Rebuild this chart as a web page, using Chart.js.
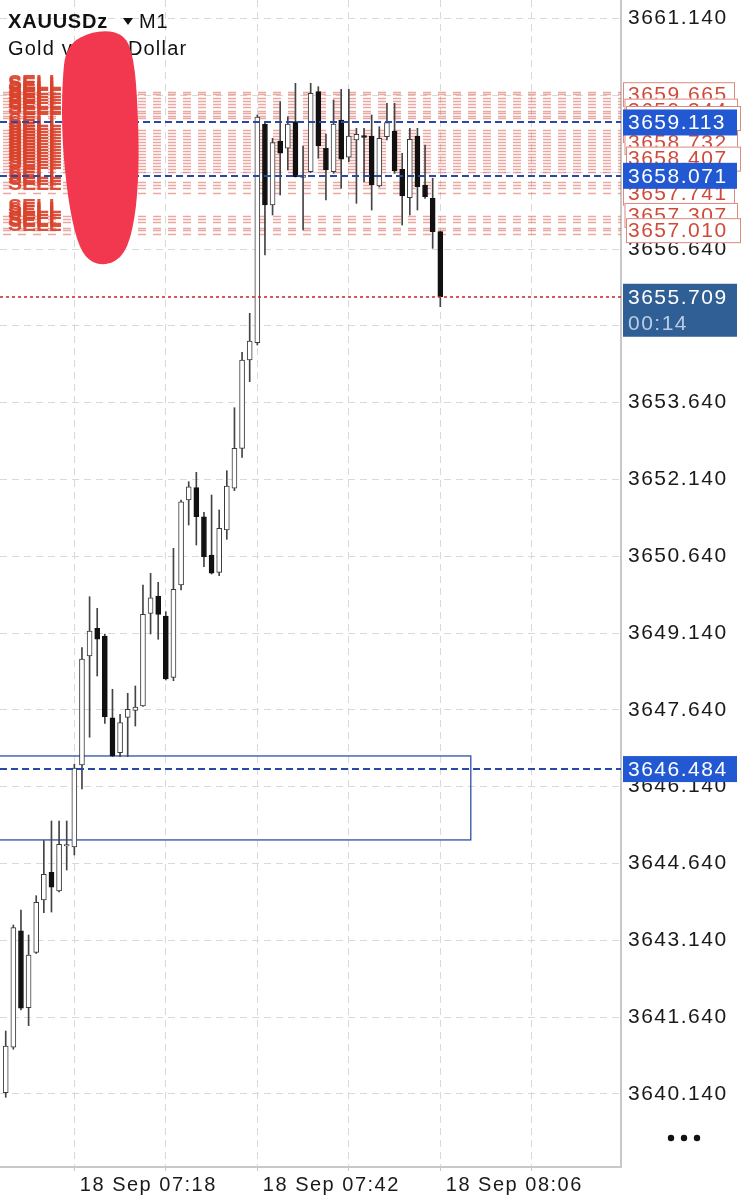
<!DOCTYPE html>
<html>
<head>
<meta charset="utf-8">
<script src="https://cdn.jsdelivr.net/npm/chart.js@4.4.1/dist/chart.umd.min.js"></script>
<style>
  html, body { margin: 0; padding: 0; background: #fff; }
  #wrap { width: 746px; height: 1200px; position: relative; }
</style>
</head>
<body>
<div id="wrap"><canvas id="xau"></canvas></div>
<script>
// XAUUSDz M1 candles, 18 Sep 07:09 - 08:06
const times = ['07:09','07:10','07:11','07:12','07:13','07:14','07:15','07:16','07:17','07:18',
  '07:19','07:20','07:21','07:22','07:23','07:24','07:25','07:26','07:27','07:28',
  '07:29','07:30','07:31','07:32','07:33','07:34','07:35','07:36','07:37','07:38',
  '07:39','07:40','07:41','07:42','07:43','07:44','07:45','07:46','07:47','07:48',
  '07:49','07:50','07:51','07:52','07:53','07:54','07:55','07:56','07:57','07:58',
  '07:59','08:00','08:01','08:02','08:03','08:04','08:05','08:06'];
const open = [3640.163,3641.050,3643.327,3641.823,3642.905,3643.927,3644.468,3644.103,3644.982,3644.962,
  3646.564,3648.692,3649.234,3649.083,3647.487,3646.804,3647.495,3647.632,3647.716,3649.526,
  3649.864,3649.474,3648.276,3650.079,3651.739,3651.980,3651.413,3650.665,3650.327,3651.153,
  3651.968,3652.749,3654.474,3654.812,3659.077,3657.501,3658.751,3658.609,3659.128,3658.042,
  3658.151,3659.714,3658.609,3658.151,3659.161,3658.433,3658.771,3658.855,3658.849,3657.872,
  3658.835,3658.946,3658.198,3657.644,3658.849,3657.892,3657.632,3656.980];
const high = [3641.368,3643.439,3643.732,3643.243,3644.011,3645.085,3645.470,3645.470,3645.470,3646.580,
  3648.855,3649.851,3649.624,3649.122,3648.042,3647.554,3647.964,3648.107,3650.079,3650.308,
  3650.132,3649.558,3650.796,3651.739,3652.097,3652.280,3651.499,3651.837,3651.544,3652.312,
  3653.542,3654.624,3655.386,3659.259,3659.122,3658.804,3659.519,3659.226,3659.878,3658.653,
  3659.878,3659.812,3658.888,3659.552,3659.761,3659.761,3658.999,3658.999,3659.259,3659.030,
  3659.487,3659.487,3658.511,3658.999,3658.999,3658.673,3658.023,3656.985];
const low = [3640.073,3641.011,3641.778,3641.472,3642.882,3643.679,3643.692,3644.083,3644.513,3644.806,
  3646.095,3647.105,3648.302,3647.378,3646.726,3646.726,3646.726,3647.325,3647.706,3649.122,
  3649.019,3648.224,3648.210,3649.982,3651.251,3650.860,3650.437,3650.294,3650.261,3650.972,
  3651.921,3652.573,3654.050,3654.767,3656.525,3657.306,3657.696,3658.185,3658.048,3657.013,
  3658.136,3658.413,3657.599,3658.120,3657.827,3658.347,3657.534,3657.956,3657.403,3657.853,
  3658.771,3658.120,3657.110,3657.306,3657.403,3657.632,3656.655,3655.515];
const close = [3641.075,3643.386,3641.812,3642.853,3643.882,3644.429,3644.175,3645.015,3645.011,3646.505,
  3648.634,3649.181,3649.019,3647.507,3646.739,3647.390,3647.651,3647.696,3649.507,3649.831,
  3649.507,3648.243,3649.995,3651.706,3651.999,3651.413,3650.632,3650.308,3651.187,3652.013,
  3652.749,3654.474,3654.845,3659.220,3657.501,3658.718,3658.511,3659.083,3658.054,3658.087,
  3659.683,3658.653,3658.185,3659.083,3658.394,3658.849,3658.882,3658.823,3657.892,3658.804,
  3659.109,3658.165,3657.677,3658.784,3657.859,3657.663,3656.980,3655.709];

// open SELL orders (red lines) and the labels visible on the price scale
const sellLevels = [3659.708,3659.665,3659.591,3659.532,3659.474,3659.415,3659.344,3659.298,3659.239,3659.200,
  3658.966,3658.907,3658.849,3658.790,3658.732,3658.673,3658.614,3658.556,3658.497,3658.439,
  3658.380,3658.321,3658.263,3658.204,3658.146,
  3657.950,3657.892,3657.833,3657.741,
  3657.286,3657.228,3657.169,3657.052,3657.010,3656.935];
const sellLabels = [3659.665,3659.344,3659.200,3658.966,3658.732,3658.407,3657.741,3657.307,3657.010];
const blueLevels = [3659.113, 3658.071, 3646.484];
const lastPrice = 3655.709;
const countdown = '00:14';
// support zone box
const zoneTop = 3646.74;
const zoneBottom = 3645.10;
const zoneEnd = '08:10';

const yTicks = [3640.140,3641.640,3643.140,3644.640,3646.140,3647.640,3649.140,3650.640,
  3652.140,3653.640,3655.140,3656.640,3658.140,3659.640,3661.140];
const xTicks = ['07:18','07:30','07:42','07:54','08:06','08:18'];
const xLabelled = ['07:18','07:42','08:06'];
const dateText = '18 Sep';

function minuteIndex(t) {
  const [h, m] = t.split(':').map(Number);
  const [h0, m0] = times[0].split(':').map(Number);
  return (h * 60 + m) - (h0 * 60 + m0);
}

const FONT = '"Liberation Sans", Arial, sans-serif';
Chart.defaults.font.family = FONT;

const bodies = times.map((t, i) => ({ x: i, y: [open[i], close[i]] }));
const wicks = times.map((t, i) => ({ x: i, y: [low[i], high[i]] }));
const bull = times.map((t, i) => close[i] >= open[i]);

function labelBox(ctx, x, y, w, h, fill, stroke) {
  ctx.fillStyle = fill;
  ctx.fillRect(x, y, w, h);
  if (stroke) {
    ctx.strokeStyle = stroke;
    ctx.lineWidth = 1;
    ctx.strokeRect(x + 0.5, y + 0.5, w - 1, h - 1);
  }
}

// rough outline of the scribble that hides the account name
const blob = [[95,30],[124,33],[134,58],[138,110],[139,170],[135,220],[125,255],[106,266],
  [88,261],[77,242],[68,200],[62,140],[62,85],[66,45]];

const overlay = {
  id: 'overlay',
  beforeDraw(chart) {
    const c = chart.ctx;
    c.save();
    c.fillStyle = '#fff';
    c.fillRect(0, 0, chart.width, chart.height);
    c.restore();
    c.letterSpacing = '1.5px';
  },
  beforeDatasetsDraw(chart) {
    const { ctx, chartArea: a, scales: { x, y } } = chart;
    ctx.save();
    ctx.beginPath();
    ctx.rect(a.left, a.top, a.right - a.left, a.bottom - a.top);
    ctx.clip();
    // sell order lines
    ctx.setLineDash([8, 7]);
    ctx.lineWidth = 1.5;
    ctx.strokeStyle = 'rgba(214,82,70,0.5)';
    sellLevels.forEach(p => {
      const py = Math.round(y.getPixelForValue(p)) + 0.5;
      ctx.beginPath();
      ctx.moveTo(a.left + 3, py);
      ctx.lineTo(a.right, py);
      ctx.stroke();
    });
    // zone rectangle
    ctx.setLineDash([]);
    ctx.strokeStyle = '#2d4fa6';
    ctx.lineWidth = 1.3;
    const zx2 = x.getPixelForValue(minuteIndex(zoneEnd));
    const zy1 = y.getPixelForValue(zoneTop), zy2 = y.getPixelForValue(zoneBottom);
    ctx.strokeRect(a.left - 2, zy1, zx2 - a.left + 2, zy2 - zy1);
    ctx.restore();
  },
  afterDatasetsDraw(chart) {
    const { ctx, chartArea: a, scales: { y } } = chart;
    ctx.save();
    // SELL tags on the left
    ctx.letterSpacing = '0px';
    ctx.font = 'bold 21px ' + FONT;
    ctx.fillStyle = 'rgba(217,67,44,0.92)';
    ctx.textBaseline = 'alphabetic';
    sellLevels.forEach(p => {
      ctx.fillText('SELL', 8, y.getPixelForValue(p) - 3);
    });
    // blue dashed levels
    ctx.setLineDash([7, 4]);
    ctx.lineWidth = 2;
    ctx.strokeStyle = '#2a48a8';
    blueLevels.forEach(p => {
      const py = Math.round(y.getPixelForValue(p));
      ctx.beginPath();
      ctx.moveTo(a.left, py);
      ctx.lineTo(a.right, py);
      ctx.stroke();
    });
    // last price line
    ctx.setLineDash([3, 3]);
    ctx.lineWidth = 1.5;
    ctx.strokeStyle = '#d42020';
    const lp = Math.round(y.getPixelForValue(lastPrice));
    ctx.beginPath();
    ctx.moveTo(a.left, lp);
    ctx.lineTo(a.right, lp);
    ctx.stroke();
    ctx.restore();
  },
  afterDraw(chart) {
    const { ctx, chartArea: a, scales: { y } } = chart;
    ctx.save();
    ctx.letterSpacing = '1.5px';
    ctx.textBaseline = 'middle';
    ctx.font = '21px ' + FONT;
    const bx = a.right + 2;
    // red order labels, stacked
    sellLabels.forEach((p, i) => {
      const py = y.getPixelForValue(p);
      const off = (i % 3) * 1.5;
      labelBox(ctx, bx + off, py - 12, 112 + off, 25, '#fff', '#dd8a80');
      ctx.fillStyle = '#cf4a3a';
      ctx.fillText(p.toFixed(3), bx + 5, py + 1);
    });
    // blue labels
    blueLevels.forEach(p => {
      const py = y.getPixelForValue(p);
      labelBox(ctx, bx, py - 13, 114, 26, '#2258d2');
      ctx.fillStyle = '#fff';
      ctx.fillText(p.toFixed(3), bx + 5, py + 1);
    });
    // last price box with countdown
    const lp = y.getPixelForValue(lastPrice);
    labelBox(ctx, bx, lp - 13, 114, 53, '#2f5f95');
    ctx.fillStyle = '#fff';
    ctx.fillText(lastPrice.toFixed(3), bx + 5, lp + 1);
    ctx.fillStyle = '#b9cde3';
    ctx.fillText(countdown, bx + 5, lp + 27);

    // header
    ctx.textBaseline = 'alphabetic';
    ctx.letterSpacing = '0.8px';
    ctx.fillStyle = '#111';
    ctx.font = 'bold 20px ' + FONT;
    ctx.fillText('XAUUSDz', 8, 28);
    ctx.beginPath();
    ctx.moveTo(123, 18); ctx.lineTo(133, 18); ctx.lineTo(128, 25);
    ctx.closePath();
    ctx.fill();
    ctx.font = '20px ' + FONT;
    ctx.fillText('M1', 139, 28);
    ctx.letterSpacing = '1.2px';
    ctx.fillText('Gold vs US Dollar', 8, 55);

    // scribble over the account info
    ctx.fillStyle = '#f2384e';
    ctx.beginPath();
    const n = blob.length;
    const mid = k => [(blob[k % n][0] + blob[(k + 1) % n][0]) / 2, (blob[k % n][1] + blob[(k + 1) % n][1]) / 2];
    const m0 = mid(0);
    ctx.moveTo(m0[0], m0[1]);
    for (let k = 1; k <= n; k++) {
      const pt = blob[k % n], m = mid(k);
      ctx.quadraticCurveTo(pt[0], pt[1], m[0], m[1]);
    }
    ctx.closePath();
    ctx.fill();

    // menu dots
    ctx.fillStyle = '#111';
    [671, 684, 697].forEach(cx => {
      ctx.beginPath();
      ctx.arc(cx, 1138, 3.2, 0, Math.PI * 2);
      ctx.fill();
    });
    ctx.restore();
  }
};

new Chart(document.getElementById('xau'), {
  type: 'bar',
  data: {
    datasets: [
      {
        label: 'body',
        data: bodies,
        grouped: false,
        barThickness: 5,
        backgroundColor: bull.map(b => b ? '#ffffff' : '#111111'),
        borderColor: bull.map(b => b ? '#3a3a3a' : '#111111'),
        borderWidth: 1,
        borderSkipped: false
      },
      {
        label: 'wick',
        data: wicks,
        grouped: false,
        barThickness: 1,
        backgroundColor: '#444444',
        borderWidth: 0
      }
    ]
  },
  options: {
    responsive: true,
    maintainAspectRatio: false,
    animation: false,
    layout: { padding: 0 },
    plugins: { legend: { display: false }, tooltip: { enabled: false } },
    scales: {
      x: {
        type: 'linear',
        min: -0.75,
        max: 80.7,
        offset: false,
        grid: { offset: false, color: '#d9d9d9', lineWidth: 1, drawTicks: true, tickLength: 4, tickColor: '#c8c8c8' },
        border: { display: true, color: '#c8c8c8', width: 2, dash: [7, 5] },
        afterBuildTicks: s => { s.ticks = xTicks.map(t => ({ value: minuteIndex(t) })); },
        afterFit: s => { s.height = 33; s.paddingLeft = 0; s.paddingRight = 0; },
        ticks: {
          autoSkip: false,
          maxRotation: 0,
          align: 'start',
          padding: 2,
          color: '#1a1a1a',
          font: { size: 20 },
          callback: (v, i) => xLabelled.includes(xTicks[i]) ? '\u2009' + dateText + ' ' + xTicks[i] : ''
        }
      },
      y: {
        position: 'right',
        min: 3638.712,
        max: 3661.505,
        grid: { color: '#d9d9d9', lineWidth: 1, drawTicks: false },
        border: { display: true, color: '#c8c8c8', width: 2, dash: [7, 5] },
        afterBuildTicks: s => { s.ticks = yTicks.map(v => ({ value: v })); },
        afterFit: s => { s.width = 125; s.paddingTop = 0; s.paddingBottom = 0; },
        ticks: {
          padding: 7,
          color: '#1a1a1a',
          font: { size: 21 },
          callback: v => Number(v).toFixed(3)
        }
      }
    }
  },
  plugins: [overlay]
});
</script>
</body>
</html>
